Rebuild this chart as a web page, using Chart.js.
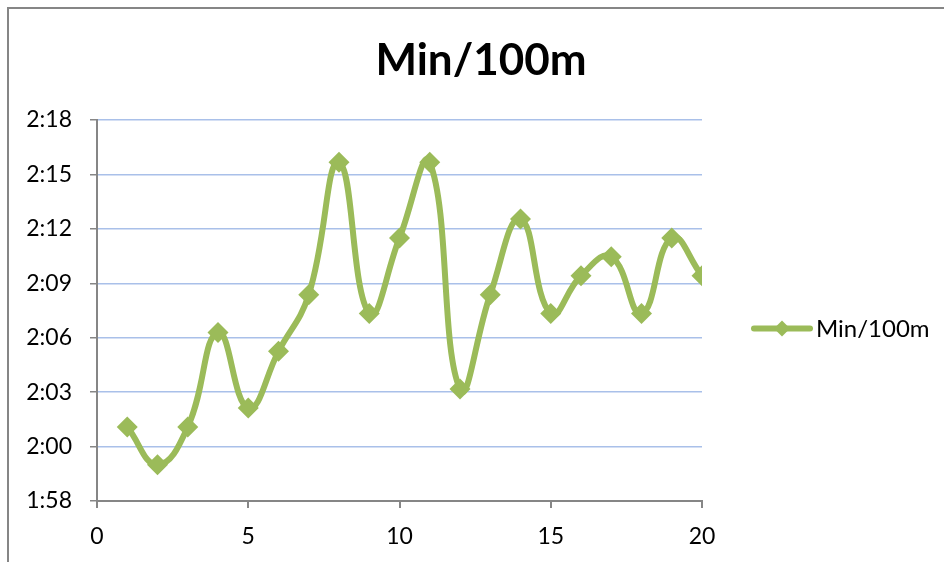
<!DOCTYPE html>
<html>
<head>
<meta charset="utf-8">
<script src="https://cdn.jsdelivr.net/npm/chart.js@4/dist/chart.umd.min.js"></script>
<style>
  html, body { margin: 0; padding: 0; background: #ffffff; }
  #wrap { width: 944px; height: 562px; position: relative; }
</style>
</head>
<body>
<div id="wrap"><canvas id="c" width="944" height="562"></canvas></div>
<script>
// ---- data ----
const laps = [1, 2, 3, 4, 5, 6, 7, 8, 9, 10, 11, 12, 13, 14, 15, 16, 17, 18, 19, 20];
const secondsPer100m = [122, 120, 122, 127, 123, 126, 129, 136, 128, 132, 136, 124, 129, 133, 128, 130, 131, 128, 132, 130];
const seriesName = 'Min/100m';
const chartTitle = 'Min/100m';
const yTickLabels = ['1:58', '2:00', '2:03', '2:06', '2:09', '2:12', '2:15', '2:18'];
const yAxisMin = 118.08;   // axis bounds in seconds
const yAxisStep = 2.88;
const xTickStep = 5;
const xAxisMin = 0;
const xAxisMax = 20;

const points = laps.map((x, i) => ({ x: x, y: secondsPer100m[i] }));
const yAxisMax = yAxisMin + yAxisStep * (yTickLabels.length - 1);

const GREEN = '#9bbb59';
const AXIS = '#868686';
const GRID = '#a9c0e9';
const FONT = 'Lato, "Open Sans", sans-serif';

const framePlugin = {
  id: 'frame',
  beforeDraw(chart) {
    const ctx = chart.ctx;
    ctx.save();
    ctx.fillStyle = '#ffffff';
    ctx.fillRect(0, 0, chart.width, chart.height);
    ctx.strokeStyle = AXIS;
    ctx.lineWidth = 2;
    ctx.beginPath();
    ctx.moveTo(8, chart.height);
    ctx.lineTo(8, 8);
    ctx.lineTo(chart.width, 8);
    ctx.stroke();
    ctx.restore();
  }
};

const titleLegendPlugin = {
  id: 'titleLegend',
  afterDraw(chart) {
    const ctx = chart.ctx;
    const area = chart.chartArea;
    ctx.save();
    // title
    ctx.fillStyle = '#000000';
    ctx.font = 'bold 44px ' + FONT;
    ctx.textAlign = 'center';
    ctx.textBaseline = 'middle';
    ctx.fillText(chartTitle, 481, 61);
    // legend
    const y = (area.top + area.bottom) / 2 + 18;
    const x0 = area.right + 52;
    ctx.strokeStyle = GREEN;
    ctx.lineWidth = 6;
    ctx.lineCap = 'round';
    ctx.beginPath();
    ctx.moveTo(x0, y);
    ctx.lineTo(x0 + 56, y);
    ctx.stroke();
    const cx = x0 + 28, r = 8;
    ctx.fillStyle = GREEN;
    ctx.beginPath();
    ctx.moveTo(cx, y - r);
    ctx.lineTo(cx + r, y);
    ctx.lineTo(cx, y + r);
    ctx.lineTo(cx - r, y);
    ctx.closePath();
    ctx.fill();
    ctx.fillStyle = '#000000';
    ctx.font = '24px ' + FONT;
    ctx.textAlign = 'left';
    ctx.textBaseline = 'middle';
    ctx.fillText(seriesName, x0 + 62, y + 1);
    ctx.restore();
  }
};

new Chart(document.getElementById('c'), {
  type: 'line',
  data: {
    datasets: [{
      label: seriesName,
      data: points,
      borderColor: GREEN,
      backgroundColor: GREEN,
      borderWidth: 6,
      tension: 0.45,
      pointStyle: 'rectRot',
      pointRadius: 10.5,
      pointBorderWidth: 0,
      pointBackgroundColor: GREEN,
      pointBorderColor: GREEN,
      fill: false
    }]
  },
  options: {
    responsive: false,
    animation: false,
    devicePixelRatio: 1,
    layout: { padding: { left: 0, right: 242, top: 120, bottom: 0 } },
    plugins: {
      legend: { display: false },
      tooltip: { enabled: false },
      title: { display: false }
    },
    scales: {
      x: {
        type: 'linear',
        min: xAxisMin,
        max: xAxisMax,
        ticks: { stepSize: xTickStep, color: '#000000', font: { family: FONT, size: 23 }, padding: 15, maxRotation: 0 },
        grid: { display: true, drawOnChartArea: false, drawTicks: true, tickLength: 7, color: AXIS, lineWidth: 2 },
        border: { display: true, color: AXIS, width: 2 },
        afterFit(scale) { scale.height = 61; }
      },
      y: {
        type: 'linear',
        min: yAxisMin,
        max: yAxisMax,
        afterBuildTicks(scale) {
          scale.ticks = yTickLabels.map((_, i) => ({ value: yAxisMin + i * yAxisStep }));
        },
        ticks: {
          color: '#000000',
          font: { family: FONT, size: 23 },
          padding: 18,
          callback: (v, i) => yTickLabels[i]
        },
        grid: {
          color: (c) => (c.index === 0 ? 'rgba(0,0,0,0)' : GRID),
          lineWidth: 1.5,
          tickColor: AXIS,
          tickLength: 7,
          drawTicks: true
        },
        border: { display: true, color: AXIS, width: 2 },
        afterFit(scale) { scale.width = 97; }
      }
    }
  },
  plugins: [framePlugin, titleLegendPlugin]
});
</script>
</body>
</html>
